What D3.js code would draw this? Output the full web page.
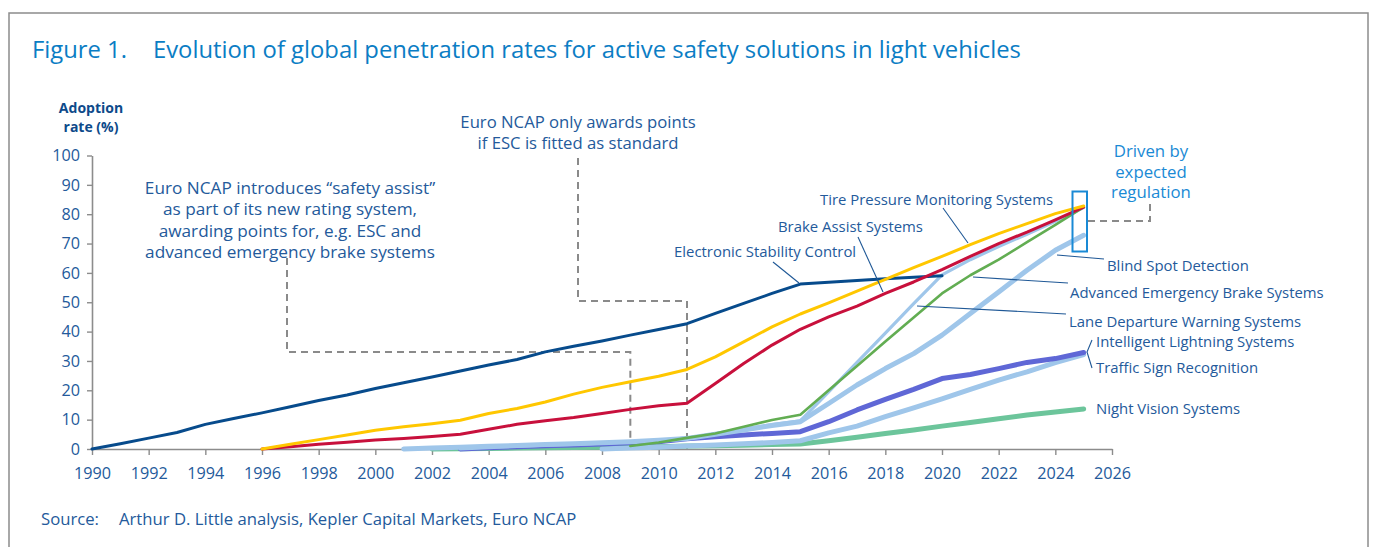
<!DOCTYPE html>
<html>
<head>
<meta charset="utf-8">
<script src="https://cdn.jsdelivr.net/npm/d3@7"></script>
<style>
  body { margin: 0; background: #fff; }
  svg { display: block; font-family: "Open Sans", "Noto Sans", sans-serif; }
</style>
</head>
<body>
<script>
// tick labels
const xTicks = d3.range(1990, 2027, 2);
const yTicks = d3.range(0, 101, 10);

// series: first year + yearly values (adoption rate, %)
const escStart = 1990;
const escValues = [0, 1.8, 3.7, 5.6, 8.4, 10.4, 12.3, 14.4, 16.5, 18.4, 20.6, 22.6, 24.5, 26.6, 28.6, 30.5,
  33.1, 35, 36.8, 38.8, 40.7, 42.7, 46.2, 49.6, 53, 56.2, 56.8, 57.4, 58, 58.5, 59];

const tpmsStart = 1996;
const tpmsValues = [0, 1.6, 3.2, 4.8, 6.4, 7.6, 8.6, 9.8, 12.1, 13.8, 16, 18.7, 21, 22.9, 24.8, 27.1,
  31.4, 36.5, 41.6, 46, 49.8, 53.8, 57.8, 61.8, 65.6, 69.6, 73.4, 76.8, 80.2, 82.8];

const brakeStart = 1996;
const brakeValues = [0, 0.8, 1.6, 2.3, 3.1, 3.6, 4.3, 5, 6.7, 8.4, 9.6, 10.7, 12.1, 13.5, 14.7, 15.6,
  22.3, 29.1, 35.4, 40.8, 45, 48.7, 53, 56.9, 61.1, 65.6, 70, 73.9, 78.1, 82.4];

const aebStart = 2009;
const aebValues = [1, 2.2, 3.8, 5.3, 7.6, 9.9, 11.7, 20, 28.3, 36.6, 44.8, 53, 59.2, 64.5, 70.5, 76.4, 82.4];

const ldwStart = 2003;
const ldwValues = [0, 0.5, 0.9, 1.3, 1.6, 2, 2.4, 2.9, 3.5, 5.2, 6.8, 8.3, 9.6, 19.5, 29.5, 39.5, 49.5,
  59.3, 64.5, 69, 73.2, 77.6, 82.3];

const bsdStart = 2001;
const bsdValues = [0, 0.3, 0.6, 0.9, 1.2, 1.5, 1.8, 2.1, 2.5, 3, 3.6, 5, 6.5, 8, 9.3, 15.5, 21.8, 27.4,
  32.5, 38.8, 46.2, 53.5, 60.9, 67.7, 72.8];

const lightStart = 2003;
const lightValues = [0, 0.4, 0.8, 1.1, 1.4, 1.7, 2.1, 2.5, 3.5, 4.2, 4.8, 5.3, 5.9, 9.3, 13.3, 16.9, 20.3,
  24, 25.4, 27.4, 29.5, 30.8, 32.9];

const tsrStart = 2008;
const tsrValues = [0, 0.3, 0.6, 1, 1.4, 1.8, 2.2, 2.8, 5.5, 7.8, 11, 14, 17.1, 20.3, 23.5, 26.3, 29.4, 32.2];

const nightStart = 2002;
const nightValues = [0, 0.1, 0.2, 0.3, 0.4, 0.5, 0.6, 0.7, 0.8, 1, 1.1, 1.3, 1.5, 1.7, 2.8, 4, 5.3, 6.5,
  7.8, 9, 10.3, 11.6, 12.6, 13.6];

const width = 1376, height = 547;
const textBlue = "#245a9b";

const svg = d3.select("body").append("svg")
  .attr("width", width)
  .attr("height", height);

// frame
svg.append("rect")
  .attr("x", 9).attr("y", 13)
  .attr("width", 1359).attr("height", 560)
  .attr("fill", "none")
  .attr("stroke", "#8c8c8c")
  .attr("stroke-width", 1.5);

// title
const title = svg.append("text")
  .attr("x", 32).attr("y", 58)
  .attr("fill", "#0b7dc4")
  .attr("font-size", 23.8);
title.append("tspan").text("Figure 1.");
title.append("tspan").attr("x", 153).text("Evolution of global penetration rates for active safety solutions in light vehicles");

const xScale = d3.scaleLinear().domain([1990, 2026]).range([92, 1112]);
const yScale = d3.scaleLinear().domain([0, 100]).range([449, 155.5]);

// y axis
const yAxis = svg.append("g")
  .attr("transform", "translate(92,0)")
  .call(d3.axisLeft(yScale).tickValues(yTicks).tickSize(5).tickSizeOuter(0).tickPadding(7));

// x axis
const xAxis = svg.append("g")
  .attr("transform", "translate(0,449)")
  .call(d3.axisBottom(xScale).tickValues(xTicks).tickFormat(d3.format("d")).tickSize(6).tickSizeOuter(0).tickPadding(12.5));

[yAxis, xAxis].forEach(ax => {
  ax.select(".domain").attr("stroke", "#8c8c8c").attr("stroke-width", 1.6);
  ax.selectAll(".tick line").attr("stroke", "#8c8c8c").attr("stroke-width", 1.4);
  ax.selectAll(".tick text")
    .attr("fill", textBlue)
    .attr("font-size", 16.2)
    .attr("font-family", "'Open Sans', sans-serif");
});

// y axis title
const yTitle = svg.append("text")
  .attr("text-anchor", "middle")
  .attr("fill", "#0d4a8a")
  .attr("font-weight", "bold")
  .attr("font-size", 14);
yTitle.append("tspan").attr("x", 91).attr("y", 113).text("Adoption");
yTitle.append("tspan").attr("x", 91).attr("y", 132).text("rate (%)");

// dashed annotation guides
const dash = svg.append("g")
  .attr("fill", "none")
  .attr("stroke", "#8a8a8a")
  .attr("stroke-width", 2)
  .attr("stroke-dasharray", "7,5");

dash.append("path")
  .attr("d", `M287,258 V352 H${xScale(2009)} V449`);
dash.append("path")
  .attr("d", `M578,158 V301 H${xScale(2011)} V449`);
dash.append("path")
  .attr("d", `M1088,221 H1150 V202`);

// series lines
const line = d3.line()
  .x(d => xScale(d[0]))
  .y(d => yScale(d[1]));

const pts = (start, vals) => vals.map((v, i) => [start + i, v]);

const series = [
  { data: pts(nightStart, nightValues), color: "#6cc59b", w: 5 },
  { data: pts(tsrStart, tsrValues), color: "#9fc6ea", w: 5 },
  { data: pts(lightStart, lightValues), color: "#5f67d6", w: 5 },
  { data: pts(bsdStart, bsdValues), color: "#9fc6ea", w: 5 },
  { data: pts(ldwStart, ldwValues), color: "#9fc6ea", w: 3.2 },
  { data: pts(aebStart, aebValues), color: "#62ad52", w: 2.6 },
  { data: pts(escStart, escValues), color: "#074b8c", w: 3 },
  { data: pts(brakeStart, brakeValues), color: "#c8103c", w: 3 },
  { data: pts(tpmsStart, tpmsValues), color: "#ffc700", w: 3 }
];

svg.append("g")
  .selectAll("path")
  .data(series)
  .enter()
  .append("path")
  .attr("d", d => line(d.data))
  .attr("fill", "none")
  .attr("stroke", d => d.color)
  .attr("stroke-width", d => d.w)
  .attr("stroke-linejoin", "round")
  .attr("stroke-linecap", "round");

// annotation texts
const note1 = svg.append("text")
  .attr("text-anchor", "middle")
  .attr("fill", textBlue)
  .attr("font-size", 17.2);
["Euro NCAP introduces \u201csafety assist\u201d", "as part of its new rating system,",
 "awarding points for, e.g. ESC and", "advanced emergency brake systems"]
  .forEach((t, i) => note1.append("tspan").attr("x", 290).attr("y", 194 + i * 21.4).text(t));

const note2 = svg.append("text")
  .attr("text-anchor", "middle")
  .attr("fill", textBlue)
  .attr("font-size", 16.7);
["Euro NCAP only awards points", "if ESC is fitted as standard"]
  .forEach((t, i) => note2.append("tspan").attr("x", 578).attr("y", 128 + i * 20.5).text(t));

const note3 = svg.append("text")
  .attr("text-anchor", "middle")
  .attr("fill", "#1a8ad5")
  .attr("font-size", 16.8);
["Driven by", "expected", "regulation"]
  .forEach((t, i) => note3.append("tspan").attr("x", 1151).attr("y", 157 + i * 20.5).text(t));

svg.append("rect")
  .attr("x", 1072.5).attr("y", 191.5)
  .attr("width", 14.5).attr("height", 60)
  .attr("fill", "none")
  .attr("stroke", "#1a8ad5")
  .attr("stroke-width", 2);

// series labels with leader lines
const labels = [
  { text: "Tire Pressure Monitoring Systems", x: 820, y: 205, lead: [[943, 208], [968, 243]] },
  { text: "Brake Assist Systems", x: 778, y: 232, lead: [[858, 237], [883, 292]] },
  { text: "Electronic Stability Control", x: 674, y: 257, lead: [[773, 262], [799, 283]] },
  { text: "Blind Spot Detection", x: 1107, y: 271, lead: [[1057, 255], [1104, 259]] },
  { text: "Advanced Emergency Brake Systems", x: 1070, y: 298, lead: [[973, 277], [1068, 283]] },
  { text: "Lane Departure Warning Systems", x: 1069, y: 327, lead: [[917, 306], [1066, 314]] },
  { text: "Intelligent Lightning Systems", x: 1096, y: 347, lead: null },
  { text: "Traffic Sign Recognition", x: 1096, y: 373, lead: null },
  { text: "Night Vision Systems", x: 1096, y: 414, lead: null }
];

const lab = svg.append("g");
lab.selectAll("text")
  .data(labels)
  .enter()
  .append("text")
  .attr("x", d => d.x)
  .attr("y", d => d.y)
  .attr("fill", textBlue)
  .attr("font-size", 14.9)
  .text(d => d.text);

lab.selectAll("path")
  .data(labels.filter(d => d.lead))
  .enter()
  .append("path")
  .attr("d", d => d3.line()(d.lead))
  .attr("fill", "none")
  .attr("stroke", "#1f5896")
  .attr("stroke-width", 1.1);

// brace for the two close lines
lab.append("path")
  .attr("d", "M1092,340 L1087,352 L1092,368")
  .attr("fill", "none")
  .attr("stroke", "#1f5896")
  .attr("stroke-width", 1.1);

// source
const src = svg.append("text")
  .attr("y", 525)
  .attr("fill", textBlue)
  .attr("font-size", 16.7);
src.append("tspan").attr("x", 41).text("Source:");
src.append("tspan").attr("x", 119).text("Arthur D. Little analysis, Kepler Capital Markets, Euro NCAP");
</script>
</body>
</html>
